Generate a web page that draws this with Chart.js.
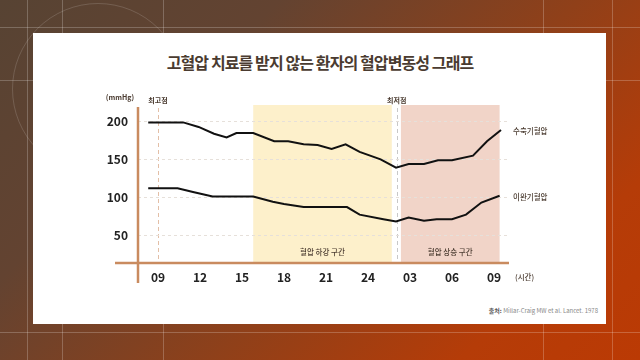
<!DOCTYPE html>
<html>
<head>
<meta charset="utf-8">
<script src="https://cdn.jsdelivr.net/npm/chart.js@4.4.1/dist/chart.umd.min.js"></script>
<style>
  html, body { margin: 0; padding: 0; }
  body {
    width: 640px; height: 360px; overflow: hidden; position: relative;
    background: linear-gradient(135deg, #574333 0%, #634331 28%, #904019 58%, #b53c08 82%, #bb3a04 100%);
    font-family: 'Noto Sans CJK KR', 'Noto Sans', sans-serif;
  }
  .ln { position: absolute; background: rgba(255,255,255,0.22); }
  .circle { position: absolute; left: 12px; top: 3px; width: 170px; height: 170px; border-radius: 50%;
    border: 1px solid rgba(255,255,255,0.15); }
  .card { position: absolute; left: 33px; top: 33px; width: 573px; height: 291px; background: #fff; }
  .title { position: absolute; left: 0; top: 51px; width: 640px; text-align: center;
    font-size: 16px; font-weight: 700; letter-spacing: -0.9px; color: #4a3b30; line-height: 22px; }
  .source { position: absolute; right: 42px; top: 306px; font-size: 6px; color: #888; line-height: 10px; }
  .source b { color: #555; }
  canvas { position: absolute; left: 0; top: 0; }
</style>
</head>
<body>
<div class="circle"></div>
<div class="ln" style="left:27px;top:0;width:1px;height:360px"></div>
<div class="ln" style="left:62px;top:0;width:1px;height:360px"></div>
<div class="ln" style="left:163px;top:0;width:1px;height:360px"></div>
<div class="ln" style="left:543px;top:0;width:1px;height:360px"></div>
<div class="ln" style="left:612px;top:0;width:1px;height:360px"></div>
<div class="ln" style="left:0;top:27px;width:640px;height:1px"></div>
<div class="ln" style="left:0;top:80px;width:640px;height:1px"></div>
<div class="ln" style="left:0;top:332px;width:640px;height:1px"></div>
<div class="card"></div>
<div class="title">고혈압 치료를 받지 않는 환자의 혈압변동성 그래프</div>
<div class="source"><b>출처:</b> Millar-Craig MW et al. Lancet. 1978</div>
<canvas id="myChart" width="640" height="360"></canvas>
<script>
// hours since midnight of day 1 (24 = midnight, 33 = 09 next day)
const tickHours = [9, 12, 15, 18, 21, 24, 27, 30, 33];
const tickLabels = ['09', '12', '15', '18', '21', '24', '03', '06', '09'];
const yTicks = [50, 100, 150, 200];

const sysHours  = [8.3, 10.8, 11.9, 13.0, 13.9, 14.6, 15.8, 17.3, 18.3, 19.4, 20.4, 21.4, 22.4, 23.4, 24.9, 26.0, 26.9, 28.0, 29.0, 30.0, 31.5, 32.5, 33.5];
const sysValues = [199, 199, 193, 184, 179, 185, 185, 174, 174, 170, 169, 164, 170, 160, 150, 139, 144, 144, 149, 149, 155, 174, 189];

const diaHours  = [8.3, 10.4, 11.5, 12.9, 15.8, 17.2, 18.0, 19.4, 22.5, 23.4, 25.1, 26.0, 26.9, 28.0, 28.9, 30.0, 31.0, 32.1, 33.4];
const diaValues = [112, 112, 107, 101, 101, 94, 91, 87, 87, 77, 71, 68, 73, 69, 71, 71, 77, 93, 102];

// zones: [start hour, end hour]
const fallZone = [15.8, 25.7];
const riseZone = [26.35, 33.4];
const peakHour = 9;
const lowHour = 26.05;

const axisColor = '#c98b5f';
const textColor = '#4a3b30';
const fontFam = "'Noto Sans CJK KR', 'Noto Sans', sans-serif";

//background zones + dashed markers
const zones = {
    id: 'zones',
    beforeDraw(chart) {
        const c = chart.ctx, a = chart.chartArea, x = chart.scales.x;
        c.save();
        c.fillStyle = '#fdf0cb';
        c.fillRect(x.getPixelForValue(fallZone[0]), a.top, x.getPixelForValue(fallZone[1]) - x.getPixelForValue(fallZone[0]), a.bottom - a.top);
        c.fillStyle = '#f1d4c8';
        c.fillRect(x.getPixelForValue(riseZone[0]), a.top, x.getPixelForValue(riseZone[1]) - x.getPixelForValue(riseZone[0]), a.bottom - a.top);

        c.lineWidth = 1;
        c.setLineDash([4, 3]);
        c.strokeStyle = '#e3bfa7';
        let px = Math.round(x.getPixelForValue(peakHour)) + 0.5;
        c.beginPath(); c.moveTo(px, a.top + 3); c.lineTo(px, a.bottom); c.stroke();
        c.strokeStyle = '#c8c8c8';
        px = Math.round(x.getPixelForValue(lowHour)) + 0.5;
        c.beginPath(); c.moveTo(px, a.top + 3); c.lineTo(px, a.bottom); c.stroke();
        c.restore();
    },
    afterDatasetsDraw(chart) {
        const c = chart.ctx, a = chart.chartArea, x = chart.scales.x, y = chart.scales.y;
        c.save();
        // axis lines (cross at lower left)
        c.strokeStyle = axisColor;
        c.lineWidth = 2.5;
        c.beginPath();
        c.moveTo(a.left - 23, a.bottom); c.lineTo(a.right + 1, a.bottom);
        c.moveTo(a.left, a.top + 2); c.lineTo(a.left, a.bottom + 20);
        c.stroke();

        c.fillStyle = textColor;
        c.textBaseline = 'middle';
        c.textAlign = 'center';
        c.font = '600 7px ' + fontFam;
        c.fillText('(mmHg)', a.left - 18, a.top - 8);
        c.fillText('최고점', x.getPixelForValue(peakHour), a.top - 5);
        c.fillText('최저점', x.getPixelForValue(lowHour), a.top - 5);
        c.font = '500 7.5px ' + fontFam;
        c.fillText('혈압 하강 구간', (x.getPixelForValue(fallZone[0]) + x.getPixelForValue(fallZone[1])) / 2, a.bottom - 11);
        c.fillText('혈압 상승 구간', (x.getPixelForValue(riseZone[0]) + x.getPixelForValue(riseZone[1])) / 2, a.bottom - 11);
        c.textAlign = 'left';
        c.fillText('수축기혈압', a.right + 5, y.getPixelForValue(sysValues[sysValues.length - 1]) + 1);
        c.fillText('이완기혈압', a.right + 5, y.getPixelForValue(diaValues[diaValues.length - 1]) + 1);
        c.fillText('(시간)', a.right + 7, a.bottom + 14);
        c.restore();
    }
};

Chart.defaults.font.family = fontFam;

const ctx = document.getElementById('myChart').getContext('2d');
const myChart = new Chart(ctx, {
    type: 'line',
    data: {
        datasets: [{
            label: '수축기혈압',
            data: sysHours.map((h, i) => ({ x: h, y: sysValues[i] })),
            borderColor: '#111',
            borderWidth: 2,
            pointRadius: 0,
            tension: 0
        }, {
            label: '이완기혈압',
            data: diaHours.map((h, i) => ({ x: h, y: diaValues[i] })),
            borderColor: '#111',
            borderWidth: 2,
            pointRadius: 0,
            tension: 0
        }]
    },
    options: {
        responsive: false,
        animation: false,
        layout: { padding: { left: 98, right: 132, top: 105, bottom: 67 } },
        plugins: { legend: { display: false }, tooltip: { enabled: false } },
        scales: {
            x: {
                type: 'linear',
                min: 7.57,
                max: 34,
                afterBuildTicks: s => { s.ticks = tickHours.map(v => ({ value: v })); },
                afterFit: s => { s.height = 30; },
                grid: { display: false, drawTicks: false },
                border: { display: false },
                ticks: {
                    padding: 7,
                    color: '#222',
                    font: { size: 12, weight: '600' },
                    callback: (v, i) => tickLabels[i]
                }
            },
            y: {
                min: 13,
                max: 222,
                afterBuildTicks: s => { s.ticks = yTicks.map(v => ({ value: v })); },
                afterFit: s => { s.width = 40; },
                grid: { color: '#e6e0da', drawTicks: false },
                border: { display: false, dash: [3, 3] },
                ticks: {
                    padding: 10,
                    color: '#222',
                    font: { size: 12, weight: '700' }
                }
            }
        }
    },
    plugins: [zones]
});
</script>
</body>
</html>
